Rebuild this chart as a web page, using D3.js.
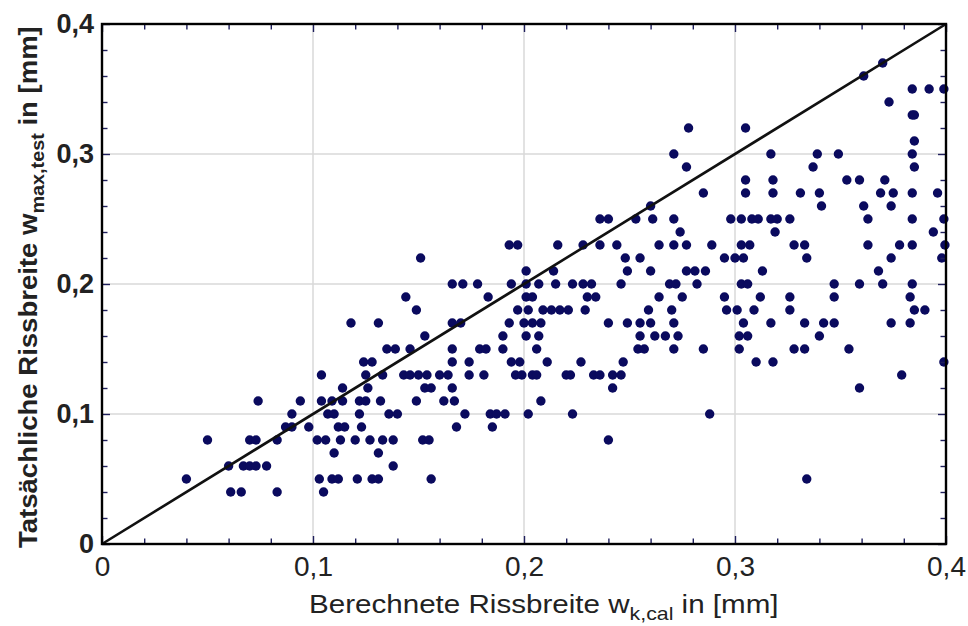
<!DOCTYPE html>
<html>
<head>
<meta charset="utf-8">
<script src="https://cdn.jsdelivr.net/npm/d3@7"></script>
<style>
  body { margin: 0; background: #fff; }
  svg { display: block; }
</style>
</head>
<body>
<svg id="chart" width="968" height="626"></svg>
<script>
// Measured crack widths w_max,test (mm), one row per level
const rowLevels = [0.37, 0.36, 0.35, 0.34, 0.33, 0.32, 0.31, 0.30, 0.29, 0.28, 0.27, 0.26, 0.25, 0.24,
                   0.23, 0.22, 0.21, 0.20, 0.19, 0.18, 0.17, 0.16, 0.15, 0.14, 0.13, 0.12, 0.11, 0.10,
                   0.09, 0.08, 0.07, 0.06, 0.05, 0.04];

// Calculated crack widths w_k,cal (mm) belonging to each measured level
const rowCalc = [
  [0.370],
  [0.361],
  [0.384, 0.392, 0.399],
  [0.373],
  [0.384, 0.385],
  [0.278, 0.305],
  [0.385],
  [0.271, 0.317, 0.339, 0.349, 0.384],
  [0.277, 0.337, 0.385],
  [0.305, 0.318, 0.353, 0.359, 0.371],
  [0.285, 0.305, 0.318, 0.331, 0.340, 0.369, 0.375, 0.384, 0.396],
  [0.260, 0.341, 0.361, 0.374],
  [0.236, 0.240, 0.253, 0.261, 0.271, 0.298, 0.303, 0.308, 0.311, 0.317, 0.320, 0.326, 0.363, 0.384, 0.399],
  [0.274, 0.319, 0.394],
  [0.193, 0.197, 0.216, 0.228, 0.236, 0.244, 0.264, 0.271, 0.277, 0.289, 0.303, 0.307, 0.328, 0.333, 0.363, 0.378, 0.384, 0.3995],
  [0.151, 0.248, 0.255, 0.295, 0.300, 0.304, 0.334, 0.374, 0.398],
  [0.201, 0.214, 0.249, 0.260, 0.277, 0.281, 0.286, 0.313, 0.368],
  [0.166, 0.171, 0.178, 0.194, 0.201, 0.207, 0.215, 0.223, 0.228, 0.232, 0.246, 0.269, 0.272, 0.282, 0.303, 0.306, 0.347, 0.359, 0.370, 0.384],
  [0.144, 0.183, 0.201, 0.204, 0.230, 0.234, 0.264, 0.275, 0.295, 0.312, 0.326, 0.347, 0.383],
  [0.149, 0.197, 0.202, 0.209, 0.213, 0.217, 0.221, 0.229, 0.259, 0.270, 0.296, 0.301, 0.309, 0.326, 0.385, 0.390],
  [0.118, 0.131, 0.166, 0.170, 0.193, 0.200, 0.204, 0.208, 0.240, 0.249, 0.255, 0.260, 0.271, 0.304, 0.317, 0.333, 0.342, 0.347, 0.374, 0.383],
  [0.153, 0.190, 0.201, 0.207, 0.255, 0.262, 0.267, 0.273, 0.302, 0.306, 0.340],
  [0.135, 0.139, 0.146, 0.166, 0.179, 0.182, 0.190, 0.206, 0.254, 0.257, 0.271, 0.285, 0.302, 0.328, 0.333, 0.354],
  [0.124, 0.128, 0.166, 0.174, 0.194, 0.198, 0.211, 0.227, 0.247, 0.310, 0.318, 0.399],
  [0.104, 0.125, 0.133, 0.143, 0.146, 0.150, 0.154, 0.160, 0.164, 0.174, 0.181, 0.196, 0.199, 0.204, 0.206, 0.220, 0.222, 0.233, 0.236, 0.242, 0.246, 0.379],
  [0.114, 0.126, 0.153, 0.156, 0.166, 0.242, 0.359],
  [0.074, 0.094, 0.104, 0.109, 0.114, 0.122, 0.125, 0.132, 0.149, 0.162, 0.167, 0.208],
  [0.090, 0.107, 0.110, 0.122, 0.136, 0.140, 0.172, 0.184, 0.187, 0.191, 0.202, 0.223, 0.288],
  [0.087, 0.090, 0.098, 0.112, 0.115, 0.123, 0.168, 0.185],
  [0.050, 0.070, 0.073, 0.083, 0.102, 0.106, 0.113, 0.120, 0.127, 0.133, 0.138, 0.152, 0.155, 0.240],
  [0.110, 0.131],
  [0.060, 0.067, 0.070, 0.073, 0.078, 0.138],
  [0.040, 0.103, 0.109, 0.112, 0.121, 0.128, 0.131, 0.156, 0.334],
  [0.061, 0.066, 0.083, 0.105]
];

const labelTicks = [0, 0.1, 0.2, 0.3, 0.4];
const minorTicks = d3.range(0, 21).map(i => i * 0.02);
const gridValues = [0.1, 0.2, 0.3];
const xTitle = ["Berechnete Rissbreite w", "k,cal", " in [mm]"];
const yTitle = ["Tatsächliche Rissbreite w", "max,test", " in [mm]"];

const W = 968, H = 626;
const margin = { top: 24, right: 22, bottom: 82, left: 102 };
const FONT = "'Liberation Sans', Arial, Helvetica, sans-serif";
const DOT = "#0a0a5e";
const TICK = "#1f1f5c";

const svg = d3.select("#chart");
const x = d3.scaleLinear().domain([0, 0.4]).range([margin.left, W - margin.right]);
const y = d3.scaleLinear().domain([0, 0.4]).range([H - margin.bottom, margin.top]);

const points = rowLevels.flatMap((lv, i) => rowCalc[i].map(c => ({ cal: c, test: lv })));
const fmt = d => d === 0 ? "0" : d3.format(".1f")(d).replace(".", ",");
const isMajor = d => Math.abs(d * 10 - Math.round(d * 10)) < 1e-6;

// light grid every 0.1 mm
const grid = svg.append("g").attr("stroke", "#d9d9d9").attr("stroke-width", 1.5);
grid.selectAll("line.gx").data(gridValues).join("line").attr("class", "gx")
  .attr("x1", d => x(d)).attr("x2", d => x(d)).attr("y1", y(0)).attr("y2", y(0.4));
grid.selectAll("line.gy").data(gridValues).join("line").attr("class", "gy")
  .attr("y1", d => y(d)).attr("y2", d => y(d)).attr("x1", x(0)).attr("x2", x(0.4));

// scatter of measured vs. calculated widths
svg.append("g").selectAll("circle").data(points).join("circle")
  .attr("cx", d => x(d.cal)).attr("cy", d => y(d.test))
  .attr("r", 4.7).attr("fill", DOT);

// line of equality
svg.append("line")
  .attr("x1", x(0)).attr("y1", y(0)).attr("x2", x(0.4)).attr("y2", y(0.4))
  .attr("stroke", "#111").attr("stroke-width", 2.6);

// inward ticks on all four sides, a little longer at the labelled values
function tickStyle(g, horizontal, sign) {
  g.select(".domain").remove();
  g.selectAll(".tick line")
    .attr("stroke", TICK).attr("stroke-width", 1.4)
    .attr(horizontal ? "y2" : "x2", d => sign * (isMajor(d) ? 8 : 5.5));
}
svg.append("g").attr("transform", `translate(0,${y(0)})`)
  .call(d3.axisBottom(x).tickValues(minorTicks).tickSize(-6).tickFormat(""))
  .call(g => tickStyle(g, true, -1));
svg.append("g").attr("transform", `translate(0,${y(0.4)})`)
  .call(d3.axisTop(x).tickValues(minorTicks).tickSize(-6).tickFormat(""))
  .call(g => tickStyle(g, true, 1));
svg.append("g").attr("transform", `translate(${x(0)},0)`)
  .call(d3.axisLeft(y).tickValues(minorTicks).tickSize(-6).tickFormat(""))
  .call(g => tickStyle(g, false, 1));
svg.append("g").attr("transform", `translate(${x(0.4)},0)`)
  .call(d3.axisRight(y).tickValues(minorTicks).tickSize(-6).tickFormat(""))
  .call(g => tickStyle(g, false, -1));

// plot frame
svg.append("rect")
  .attr("x", x(0)).attr("y", y(0.4))
  .attr("width", x(0.4) - x(0)).attr("height", y(0) - y(0.4))
  .attr("fill", "none").attr("stroke", "#000").attr("stroke-width", 2.4);

// tick labels
const xLab = svg.append("g").attr("transform", `translate(0,${y(0)})`)
  .call(d3.axisBottom(x).tickValues(labelTicks).tickSize(0).tickPadding(12).tickFormat(fmt));
xLab.select(".domain").remove();
xLab.selectAll("text").attr("font-family", FONT).attr("font-size", 28).attr("fill", "#222");

const yLab = svg.append("g").attr("transform", `translate(${x(0)},0)`)
  .call(d3.axisLeft(y).tickValues(labelTicks).tickSize(0).tickPadding(8).tickFormat(fmt));
yLab.select(".domain").remove();
yLab.selectAll("text").attr("font-family", FONT).attr("font-size", 27)
  .attr("font-weight", "bold").attr("fill", "#222");

// axis titles with subscripts, stretched to their drawn length
function title(parts, size, weight) {
  const t = svg.append("text").attr("font-family", FONT).attr("font-size", size)
    .attr("font-weight", weight).attr("fill", "#222");
  t.append("tspan").text(parts[0]);
  t.append("tspan").attr("font-size", size * 0.72).attr("dy", size * 0.28).text(parts[1]);
  t.append("tspan").attr("dy", -size * 0.28).text(parts[2]);
  return t;
}

const xt = title(xTitle, 25, "normal");
{
  const len = xt.node().getComputedTextLength();
  const target = 470, cx = 544;
  xt.attr("transform", `translate(${cx - target / 2},613) scale(${target / len},1)`);
}

const yt = title(yTitle, 25, "bold");
{
  const len = yt.node().getComputedTextLength();
  const target = 522, cy = 287;
  yt.attr("transform", `translate(37,${cy + target / 2}) rotate(-90) scale(${target / len},1)`);
}
</script>
</body>
</html>
